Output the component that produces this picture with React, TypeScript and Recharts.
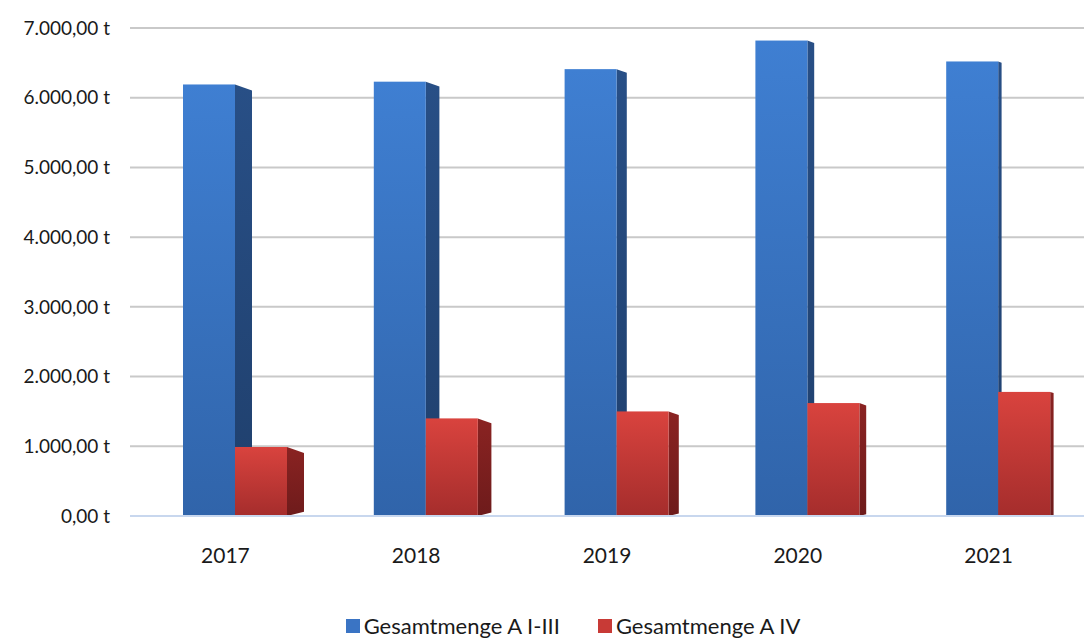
import { BarChart, Bar, XAxis, YAxis, CartesianGrid, Legend } from "recharts";

const years = ["2017", "2018", "2019", "2020", "2021"];
const mengeAI_III = [6190, 6230, 6410, 6820, 6520];
const mengeAIV = [990, 1400, 1500, 1620, 1780];
const yTicks = [0, 1000, 2000, 3000, 4000, 5000, 6000, 7000];

const data = years.map((year, i) => ({
  year,
  a13: mengeAI_III[i],
  a4: mengeAIV[i],
}));

const FONT = "Lato, 'Open Sans', sans-serif";

function formatTons(v: number) {
  const [int, dec] = v.toFixed(2).split(".");
  const withDots = int.replace(/\B(?=(\d{3})+(?!\d))/g, ".");
  return `${withDots},${dec} t`;
}

// front face + a side face that shrinks toward the right, for a fake 3D look
function Bar3D(props: any) {
  const { x, y, width, height, index, front, side } = props;
  if (!height || height <= 0) return null;
  const sx = x + 10;
  const d = Math.max(3, 17 - index * 3.4);
  const r = sx + width;
  const sidePath = `M${r},${y} L${r + d},${y + d * 0.35} L${r + d},${y + height - d * 0.25} L${r},${y + height} Z`;
  return (
    <g>
      <path d={sidePath} fill={side} />
      <rect x={sx} y={y} width={width} height={height} fill={front} />
    </g>
  );
}

function LegendContent(props: any) {
  const items = props.payload || [];
  return (
    <div style={{ display: "flex", justifyContent: "center", gap: 38, fontFamily: FONT, fontSize: 22, color: "#1a1a1a", paddingLeft: 62, lineHeight: "26px" }}>
      {items.map((it: any) => (
        <div key={it.value} style={{ display: "flex", alignItems: "center" }}>
          <span style={{ width: 14, height: 14, background: it.color, display: "inline-block", marginRight: 4 }} />
          {it.value}
        </div>
      ))}
    </div>
  );
}

export default function App() {
  return (
    <div style={{ position: "absolute", left: 0, top: 0, width: 1084, height: 639, background: "#fff" }}>
      <BarChart
        width={1084}
        height={639}
        data={data}
        margin={{ top: 28, right: 0, left: 0, bottom: 0 }}
        barGap={0}
        barSize={52}
      >
        <defs>
          <linearGradient id="blueFront" x1="0" y1="0" x2="0" y2="1">
            <stop offset="0%" stopColor="#3f7fd2" />
            <stop offset="100%" stopColor="#3064aa" />
          </linearGradient>
          <linearGradient id="blueSide" x1="0" y1="0" x2="0" y2="1">
            <stop offset="0%" stopColor="#284f86" />
            <stop offset="100%" stopColor="#1f3f6c" />
          </linearGradient>
          <linearGradient id="redFront" x1="0" y1="0" x2="0" y2="1">
            <stop offset="0%" stopColor="#d9433e" />
            <stop offset="100%" stopColor="#a52d2c" />
          </linearGradient>
          <linearGradient id="redSide" x1="0" y1="0" x2="0" y2="1">
            <stop offset="0%" stopColor="#8a2322" />
            <stop offset="100%" stopColor="#6e1b1b" />
          </linearGradient>
        </defs>
        <CartesianGrid vertical={false} stroke="#c9c9c9" strokeWidth={2} />
        <XAxis
          dataKey="year"
          height={97}
          axisLine={{ stroke: "#c8d7ee", strokeWidth: 2 }}
          tickLine={false}
          tickMargin={26}
          tick={{ fontSize: 21, fill: "#1a1a1a", fontFamily: FONT }}
        />
        <YAxis
          width={130}
          domain={[0, 7000]}
          ticks={yTicks}
          axisLine={false}
          tickLine={false}
          tickMargin={14}
          tickFormatter={formatTons}
          tick={{ fontSize: 19, fill: "#1a1a1a", fontFamily: FONT }}
        />
        <Legend verticalAlign="bottom" content={<LegendContent />} />
        <Bar
          dataKey="a13"
          name="Gesamtmenge A I-III"
          fill="#3a74c4"
          isAnimationActive={false}
          shape={(p: any) => <Bar3D {...p} front="url(#blueFront)" side="url(#blueSide)" />}
        />
        <Bar
          dataKey="a4"
          name="Gesamtmenge A IV"
          fill="#c83a36"
          isAnimationActive={false}
          shape={(p: any) => <Bar3D {...p} front="url(#redFront)" side="url(#redSide)" />}
        />
      </BarChart>
    </div>
  );
}
